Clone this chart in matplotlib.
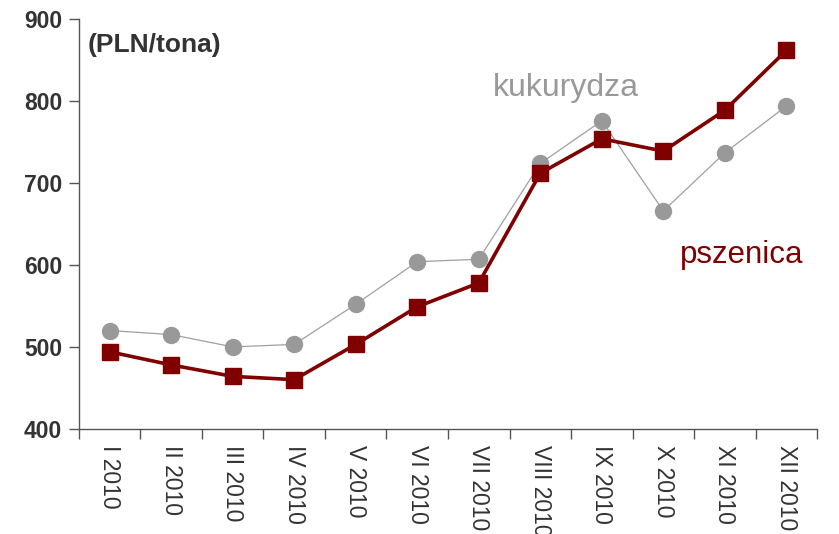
import matplotlib
matplotlib.use('Agg')
from matplotlib import pyplot as plt
import numpy as np

plt.rcParams['font.family'] = ['Liberation Sans', 'DejaVu Sans']

months = ["I 2010", "II 2010", "III 2010", "IV 2010", "V 2010", "VI 2010",
          "VII 2010", "VIII 2010", "IX 2010", "X 2010", "XI 2010", "XII 2010"]
pszenica = [494, 478, 464, 460, 503, 549, 578, 712, 754, 739, 789, 862]
kukurydza = [520, 515, 500, 503, 552, 604, 607, 724, 776, 666, 737, 794]

WHEAT = '#800000'
CORN = '#999999'

def main():
    fig = plt.figure(figsize=(8.39, 5.34), dpi=100)
    ax = fig.add_axes([0.094, 0.197, 0.880, 0.767])
    x = np.arange(len(months))

    ax.plot(x, kukurydza, color='#a0a0a0', lw=0.9, marker='o', ms=11.5,
            markerfacecolor=CORN, markeredgecolor=CORN, zorder=2)
    ax.plot(x, pszenica, color=WHEAT, lw=2.6, marker='s', ms=11,
            markerfacecolor=WHEAT, markeredgecolor=WHEAT, zorder=3)

    ax.set_xlim(-0.5, len(months) - 0.5)
    ax.set_ylim(400, 900)
    ax.set_yticks(range(400, 901, 100))
    ax.set_yticklabels([str(v) for v in range(400, 901, 100)],
                       fontsize=16.5, fontweight='bold', color='#333333')
    ax.set_xticks(x)
    ax.set_xticklabels(months, rotation=270, fontsize=16.5, color='#333333')
    ax.set_xticks(np.arange(-0.5, len(months), 1), minor=True)
    ax.tick_params(axis='x', which='major', length=0, pad=12)
    ax.tick_params(axis='x', which='minor', length=7, color='#555555', width=1)
    ax.tick_params(axis='y', length=7, color='#555555', width=1, pad=5)

    for s in ['top', 'right']:
        ax.spines[s].set_visible(False)
    for s in ['left', 'bottom']:
        ax.spines[s].set_color('#555555')
        ax.spines[s].set_linewidth(1)

    fig.text(0.105, 0.915, "(PLN/tona)", fontsize=19, fontweight='bold',
             color='#333333', va='center', ha='left')
    fig.text(0.588, 0.835, "kukurydza", fontsize=23, color=CORN,
             va='center', ha='left')
    fig.text(0.810, 0.523, "pszenica", fontsize=22.5, color=WHEAT,
             va='center', ha='left')

    fig.savefig('out.png', dpi=100)

if __name__ == '__main__':
    main()
